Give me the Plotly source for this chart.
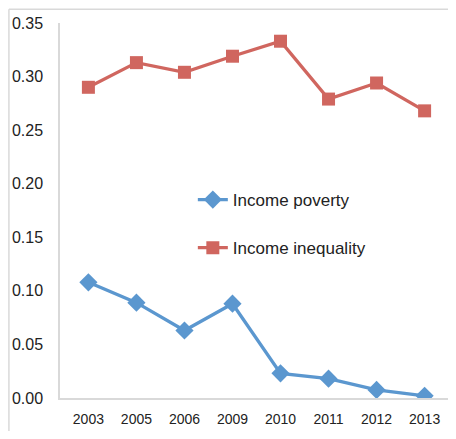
import plotly.graph_objects as go

years = ["2003", "2005", "2006", "2009", "2010", "2011", "2012", "2013"]
income_poverty = [0.108, 0.089, 0.063, 0.088, 0.023, 0.018, 0.0075, 0.002]
income_inequality = [0.290, 0.313, 0.304, 0.319, 0.333, 0.279, 0.294, 0.268]
y_ticks = [0.00, 0.05, 0.10, 0.15, 0.20, 0.25, 0.30, 0.35]

BLUE = "#5b97cf"
RED = "#d0665f"
GREY = "#d9d9d9"
FONT = "Liberation Sans"

fig = go.Figure()
fig.add_trace(go.Scatter(
    x=years, y=income_poverty, name="Income poverty", mode="lines+markers",
    line=dict(color=BLUE, width=3.3),
    marker=dict(symbol="diamond", size=14, color=BLUE),
    legendgroup="a",
))
fig.add_trace(go.Scatter(
    x=years, y=income_inequality, name="Income inequality", mode="lines+markers",
    line=dict(color=RED, width=3.3),
    marker=dict(symbol="square", size=13, color=RED),
    legendgroup="b",
))

# page body has an 8px margin, so the figure starts at (8, 8)
fig.update_layout(
    width=448, height=423,
    margin=dict(l=52, r=3, t=15, b=33, autoexpand=False),
    paper_bgcolor="white", plot_bgcolor="white",
    font=dict(family=FONT, color="#222222"),
    showlegend=True,
    legend=dict(
        x=0.338, y=0.576, xanchor="left", yanchor="top",
        font=dict(size=17, family=FONT, color="#222222"),
        bgcolor="rgba(0,0,0,0)", tracegroupgap=23,
        itemwidth=30,
    ),
    xaxis=dict(
        type="category", showgrid=False, zeroline=False, automargin=False,
        showline=True, linecolor=GREY, linewidth=1.5,
        ticks="", tickfont=dict(size=14, family=FONT, color="#222222"),
        ticklabelstandoff=7,
    ),
    yaxis=dict(
        range=[0, 0.35], tickvals=y_ticks, tickformat=".2f", automargin=False,
        showgrid=False, zeroline=False,
        showline=True, linecolor=GREY, linewidth=1.5,
        ticks="", tickfont=dict(size=16, family=FONT, color="#222222"),
        ticklabelstandoff=12,
    ),
    shapes=[
        dict(type="line", xref="paper", yref="paper", x0=-0.13, x1=-0.13,
             y0=-0.2, y1=1.037, line=dict(color=GREY, width=1.5)),
        dict(type="line", xref="paper", yref="paper", x0=-0.13, x1=1.01,
             y0=1.037, y1=1.037, line=dict(color=GREY, width=1.5)),
    ],
)

fig.write_html("out.html")
